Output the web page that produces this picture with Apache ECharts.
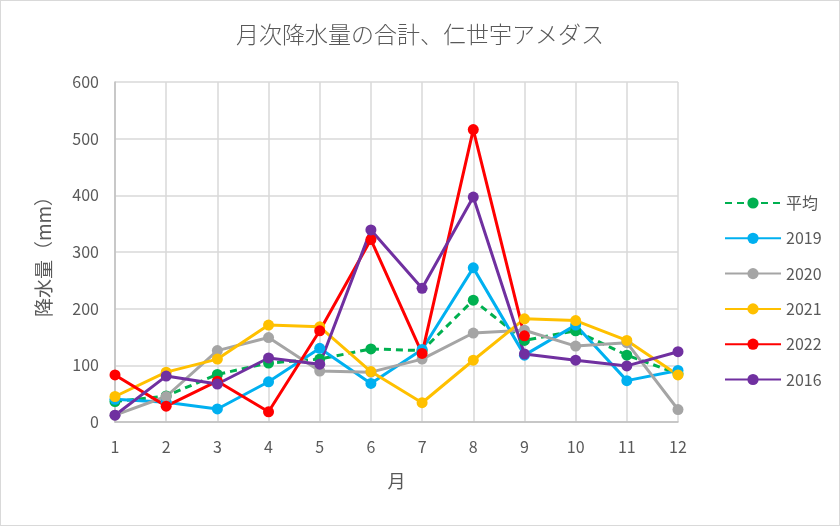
<!DOCTYPE html>
<html>
<head>
<meta charset="utf-8">
<script src="https://cdn.jsdelivr.net/npm/echarts@6/dist/echarts.min.js"></script>
<style>
  html, body { margin: 0; padding: 0; background: #fff; }
  #chart { width: 838px; height: 524px; border: 1px solid #d9d9d9; }
</style>
</head>
<body>
<div id="chart"></div>
<script>
const months = ['1', '2', '3', '4', '5', '6', '7', '8', '9', '10', '11', '12'];
const avg = [36, 46, 84, 104, 111, 129, 126, 215, 144, 161, 118, 85];
const y2019 = [40, 35, 23, 71, 130, 68, 128, 272, 118, 171, 73, 91];
const y2020 = [12, 45, 126, 149, 90, 88, 111, 157, 162, 134, 140, 22];
const y2021 = [45, 88, 111, 171, 168, 89, 34, 109, 182, 179, 144, 83];
const y2022 = [83, 28, 72, 18, 161, 322, 121, 516, 152, null, null, null];
const y2016 = [12, 81, 67, 113, 102, 339, 236, 397, 120, 109, 99, 124];

function drawRainChart(element) {
    var myChart = echarts.init(element);

    function line(name, data, color, dashed) {
        return {
            name: name,
            type: 'line',
            data: data,
            symbol: 'circle',
            symbolSize: 11,
            itemStyle: { color: color },
            lineStyle: { color: color, width: 3, type: dashed ? [7, 5] : 'solid' },
            connectNulls: false,
            z: 2
        };
    }

    var option = {
        animation: false,
        title: {
            text: '月次降水量の合計、仁世宇アメダス',
            left: 'center',
            top: 17,
            textStyle: {
                fontFamily: 'Noto Sans CJK JP',
                fontSize: 23,
                fontWeight: 300,
                color: '#595959'
            }
        },
        legend: {
            orient: 'vertical',
            left: 718,
            top: 189,
            itemWidth: 56,
            itemHeight: 14,
            itemGap: 19.3,
            textStyle: {
                fontFamily: 'Noto Sans CJK JP',
                fontSize: 16,
                color: '#595959'
            },
            data: ['平均', '2019', '2020', '2021', '2022', '2016']
        },
        grid: {
            left: 114,
            right: 161,
            top: 81,
            bottom: 103
        },
        xAxis: {
            type: 'category',
            data: months,
            boundaryGap: false,
            name: '月',
            nameLocation: 'middle',
            nameGap: 50,
            nameTextStyle: {
                fontFamily: 'Noto Sans CJK JP',
                fontSize: 18,
                color: '#595959'
            },
            axisLine: { lineStyle: { color: '#bfbfbf', width: 1.5 } },
            axisTick: { show: false },
            axisLabel: {
                margin: 17,
                fontFamily: 'Noto Sans CJK JP',
                fontSize: 16,
                color: '#595959'
            },
            splitLine: { show: true, lineStyle: { color: '#d9d9d9', width: 1.5 } }
        },
        yAxis: {
            type: 'value',
            min: 0,
            max: 600,
            interval: 100,
            name: '降水量（mm）',
            nameLocation: 'middle',
            nameGap: 62,
            nameTextStyle: {
                fontFamily: 'Noto Sans CJK JP',
                fontSize: 19,
                color: '#595959'
            },
            axisLine: { show: true, lineStyle: { color: '#bfbfbf', width: 1.5 } },
            axisTick: { show: false },
            axisLabel: {
                margin: 16,
                fontFamily: 'Noto Sans CJK JP',
                fontSize: 16,
                color: '#595959'
            },
            splitLine: { lineStyle: { color: '#d9d9d9', width: 1.5 } }
        },
        series: [
            line('平均', avg, '#00b050', true),
            line('2019', y2019, '#00b0f0'),
            line('2020', y2020, '#a5a5a5'),
            line('2021', y2021, '#ffc000'),
            line('2022', y2022, '#ff0000'),
            line('2016', y2016, '#7030a0')
        ]
    };
    myChart.setOption(option);
}

drawRainChart(document.getElementById('chart'));
</script>
</body>
</html>
